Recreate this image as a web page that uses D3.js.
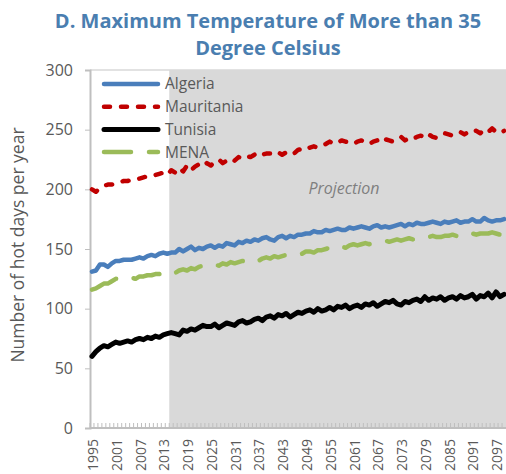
<!DOCTYPE html>
<html>
<head>
<meta charset="utf-8">
<script src="https://cdn.jsdelivr.net/npm/d3@7"></script>
<style>
  body { margin: 0; background: #fff; }
  svg { display: block; font-family: "Open Sans", sans-serif; }
</style>
</head>
<body>
<svg id="chart"></svg>
<script>
// years 1995 - 2099, history until 2014, projection after
var years = d3.range(1995, 2100);
var projectionStart = 2015;

var algeria = [
  131,132,137,137,135,138,140,140,141,141,
  141,142,143,142,144,145,144,146,147,146,
  147,147,150,148,150,152,149,151,150,152,
  153,151,153,152,155,154,153,156,155,157,
  156,158,157,159,160,158,157,160,161,159,
  161,160,162,162,163,163,165,164,164,166,
  165,166,167,166,166,168,167,168,169,168,
  167,169,170,168,169,168,169,170,171,169,
  171,170,172,171,171,172,173,172,171,173,
  172,173,174,172,173,173,175,173,173,176,
  174,173,174,174,175
];
var mauritania = [
  200,198,201,203,204,204,205,206,207,207,
  208,208,209,210,211,211,212,213,214,212,
  216,214,218,215,220,216,219,221,219,222,
  220,223,225,222,224,226,224,227,226,228,
  227,229,231,229,230,230,232,231,229,231,
  232,230,233,234,233,235,236,235,237,238,
  240,238,239,241,240,239,238,240,241,239,
  238,240,241,239,242,241,240,242,244,241,
  243,242,244,245,243,246,244,243,245,247,
  246,245,247,248,246,248,250,249,247,250,
  248,251,248,247,249
];
var tunisia = [
  60,64,67,69,68,70,72,71,72,73,
  72,74,75,74,76,75,77,76,78,79,
  80,79,78,82,81,83,82,84,86,85,
  85,87,84,86,88,87,86,89,90,88,
  89,91,92,90,93,94,92,95,94,96,
  93,95,97,96,98,99,97,100,98,99,
  101,99,102,101,103,100,102,103,101,104,
  103,105,102,104,106,105,107,104,103,106,
  105,107,108,106,110,107,109,108,110,107,
  109,110,108,111,109,110,112,108,111,110,
  113,109,114,110,112
];
var mena = [
  116,117,119,121,121,123,125,125,124,125,
  126,125,127,127,128,128,129,129,130,129,
  131,130,132,133,132,134,133,135,136,135,
  136,137,136,138,137,139,138,139,140,139,
  141,141,140,142,143,142,144,143,144,145,
  145,146,147,146,148,148,147,149,149,150,
  151,150,152,152,151,153,154,153,154,155,
  154,155,156,156,157,156,157,158,157,158,
  159,158,159,160,159,160,161,160,160,161,
  161,162,161,162,162,161,163,162,163,163,
  163,164,163,162,163
];
var yTicks = [0, 50, 100, 150, 200, 250, 300];
var tickYears = d3.range(1995, 2100, 6);

var series = [
  { name: 'Algeria', values: algeria, color: '#4A7EBB', dash: null, width: 4.5 },
  { name: 'Mauritania', values: mauritania, color: '#C00000', dash: '6,11', width: 4.5 },
  { name: 'Tunisia', values: tunisia, color: '#000000', dash: null, width: 5 },
  { name: 'MENA', values: mena, color: '#9BBB59', dash: '27,18', width: 4.5 }
];

var W = 506, H = 474;
var plotL = 90, plotR = 506, plotT = 70, plotB = 428;

var svg = d3.select('#chart').attr('width', W).attr('height', H);

var x = d3.scaleBand().domain(years).range([plotL, plotR]);
var xc = function (yr) { return x(yr) + x.bandwidth() / 2; };
var y = d3.scaleLinear().domain([0, 300]).range([plotB, plotT]);

// title
var title = svg.append('text')
  .attr('text-anchor', 'middle')
  .attr('fill', '#4A7EB0')
  .style('font-weight', 700)
  .style('font-size', '20px');
title.append('tspan').attr('x', 268).attr('y', 28).text('D. Maximum Temperature of More than 35');
title.append('tspan').attr('x', 268).attr('y', 55).text('Degree Celsius');

// projection shade
svg.append('rect')
  .attr('x', x(projectionStart))
  .attr('y', plotT)
  .attr('width', plotR - x(projectionStart))
  .attr('height', plotB - plotT)
  .attr('fill', '#D9D9D9');

// plot top border
svg.append('line')
  .attr('x1', plotL).attr('x2', plotR)
  .attr('y1', plotT).attr('y2', plotT)
  .attr('stroke', '#D9D9D9').attr('stroke-width', 1.5);

svg.append('text')
  .attr('x', 344).attr('y', 194)
  .attr('text-anchor', 'middle')
  .attr('fill', '#7F7F7F')
  .style('font-style', 'italic')
  .style('font-size', '16px')
  .text('Projection');

// y axis
var yAxis = svg.append('g')
  .attr('transform', 'translate(' + plotL + ',0)')
  .call(d3.axisLeft(y).tickValues(yTicks).tickSize(5).tickPadding(12));
yAxis.select('.domain').attr('stroke', '#BFBFBF').attr('stroke-width', 2);
yAxis.selectAll('.tick line').attr('stroke', '#BFBFBF').attr('stroke-width', 1);
yAxis.selectAll('.tick text')
  .attr('fill', '#595959')
  .style('font-size', '16px')
  .style('font-family', '"Open Sans", sans-serif');

svg.append('text')
  .attr('transform', 'translate(24,245) rotate(-90)')
  .attr('text-anchor', 'middle')
  .attr('fill', '#595959')
  .style('font-size', '17.5px')
  .text('Number of hot days per year');

// x axis - small inside ticks at every category
var xAxisG = svg.append('g').attr('transform', 'translate(0,' + plotB + ')');
xAxisG.selectAll('line.minor')
  .data(years)
  .enter().append('line')
  .attr('class', 'minor')
  .attr('x1', function (d) { return x(d); })
  .attr('x2', function (d) { return x(d); })
  .attr('y1', 0).attr('y2', -5)
  .attr('stroke', '#BFBFBF').attr('stroke-width', 1);
xAxisG.append('line')
  .attr('x1', plotL).attr('x2', plotR)
  .attr('stroke', '#BFBFBF').attr('stroke-width', 2);
xAxisG.selectAll('text')
  .data(tickYears)
  .enter().append('text')
  .attr('transform', function (d) { return 'translate(' + (xc(d) + 1) + ',11) rotate(-90)'; })
  .attr('text-anchor', 'end')
  .attr('dy', '0.36em')
  .attr('fill', '#595959')
  .style('font-size', '14px')
  .text(function (d) { return d; });

// lines
var line = d3.line()
  .x(function (d, i) { return xc(years[i]); })
  .y(function (d) { return y(d); });

svg.selectAll('path.series')
  .data(series)
  .enter().append('path')
  .attr('class', 'series')
  .attr('d', function (s) { return line(s.values); })
  .attr('fill', 'none')
  .attr('stroke', function (s) { return s.color; })
  .attr('stroke-width', function (s) { return s.width; })
  .attr('stroke-dasharray', function (s) { return s.dash; })
  .attr('stroke-linecap', 'round')
  .attr('stroke-linejoin', 'round');

// legend
var rows = svg.append('g').selectAll('g')
  .data(series)
  .enter().append('g')
  .attr('transform', function (s, i) { return 'translate(0,' + (84 + i * 22.7) + ')'; });
rows.append('line')
  .attr('x1', 104).attr('x2', 158)
  .attr('stroke', function (s) { return s.color; })
  .attr('stroke-width', function (s) { return s.width; })
  .attr('stroke-dasharray', function (s) { return s.dash; })
  .attr('stroke-linecap', 'round');
rows.append('text')
  .attr('x', 165)
  .attr('dy', '0.35em')
  .attr('fill', '#595959')
  .style('font-size', '15.5px')
  .text(function (s) { return s.name; });
</script>
</body>
</html>
